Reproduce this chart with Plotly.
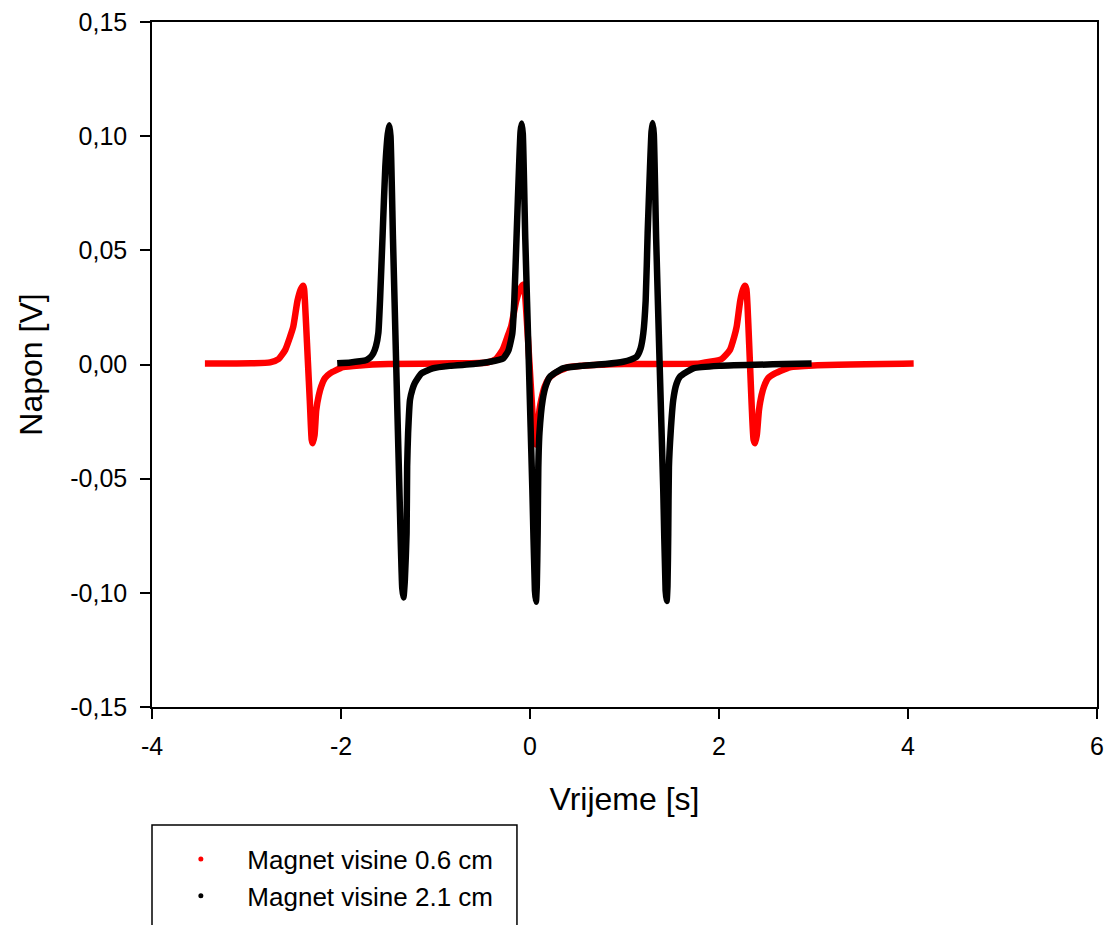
import plotly.graph_objects as go

# values (time in s, voltage in V)
red_t = [-3.44, -2.95, -2.75, -2.66, -2.59, -2.54, -2.505, -2.46, -2.425, -2.40,
         -2.39, -2.37, -2.35, -2.33, -2.31, -2.30, -2.28, -2.262, -2.235, -2.21,
         -2.17, -2.116, -1.98, -1.80, -1.50,
         -0.80, -0.45, -0.36, -0.29, -0.24, -0.20, -0.145, -0.105, -0.07, -0.055,
         -0.03, -0.005, 0.02, 0.045, 0.06, 0.08, 0.10, 0.13, 0.155, 0.20,
         0.26, 0.40, 0.60, 1.00,
         1.80, 2.028, 2.116, 2.16, 2.187, 2.225, 2.255, 2.275, 2.29, 2.31,
         2.328, 2.346, 2.366, 2.381, 2.40, 2.423, 2.45, 2.476, 2.52, 2.593,
         2.75, 3.00, 4.06]
red_v = [0.0004, 0.0005, 0.0009, 0.0024, 0.0064, 0.012, 0.0166, 0.028, 0.033, 0.0345,
         0.033, 0.018, 0.001, -0.016, -0.033, -0.0345, -0.031, -0.020, -0.0135, -0.0097,
         -0.006, -0.0039, -0.0012, -0.0004, 0.0002,
         0.0005, 0.0009, 0.0024, 0.0064, 0.012, 0.0166, 0.028, 0.033, 0.035, 0.032,
         0.017, 0.0, -0.017, -0.032, -0.035, -0.031, -0.020, -0.0135, -0.0097, -0.006,
         -0.0039, -0.0012, -0.0004, 0.0002,
         0.0005, 0.0024, 0.0064, 0.012, 0.0166, 0.028, 0.033, 0.0345, 0.033, 0.018,
         0.0, -0.018, -0.033, -0.0345, -0.031, -0.020, -0.0135, -0.0097, -0.006, -0.0039,
         -0.0012, -0.0004, 0.0004]

black_t = [-2.04, -1.90, -1.80, -1.73, -1.69, -1.658, -1.63, -1.605, -1.587, -1.559,
           -1.531, -1.505, -1.489, -1.476, -1.45, -1.416, -1.38, -1.352, -1.339, -1.325,
           -1.306, -1.30, -1.29, -1.27, -1.245, -1.22, -1.15, -1.03, -0.85, -0.60,
           -0.423, -0.33, -0.283, -0.23, -0.187, -0.166, -0.141, -0.116, -0.100, -0.088,
           -0.076, -0.05, -0.012, 0.025, 0.052, 0.063, 0.072, 0.081, 0.088, 0.10,
           0.134, 0.17, 0.212, 0.349, 0.55, 0.80,
           0.987, 1.07, 1.128, 1.17, 1.199, 1.224, 1.245, 1.27, 1.286, 1.298,
           1.310, 1.335, 1.372, 1.41, 1.435, 1.446, 1.455, 1.463, 1.47, 1.488,
           1.516, 1.55, 1.587, 1.728, 2.00, 2.98]
black_v = [0.0005, 0.0009, 0.0014, 0.0020, 0.0031, 0.0049, 0.0080, 0.0137, 0.028, 0.0575,
           0.0866, 0.101, 0.1048, 0.100, 0.055, 0.0, -0.058, -0.098, -0.102, -0.095,
           -0.0739, -0.0448, -0.0301, -0.0155, -0.0110, -0.0082, -0.0039, -0.0017, -0.0006, 0.0002,
           0.0012, 0.0020, 0.0027, 0.0060, 0.0137, 0.028, 0.0575, 0.0866, 0.102, 0.1056,
           0.101, 0.055, 0.0, -0.055, -0.099, -0.1039, -0.097, -0.0739, -0.045, -0.030,
           -0.0155, -0.0090, -0.0053, -0.0017, -0.0006, 0.0002,
           0.0012, 0.0022, 0.0034, 0.0070, 0.0137, 0.028, 0.0575, 0.0866, 0.102, 0.1058,
           0.101, 0.055, 0.0, -0.055, -0.099, -0.1036, -0.097, -0.0739, -0.045, -0.030,
           -0.0155, -0.0085, -0.0053, -0.0017, -0.0006, 0.0004]

x_ticks = [-4, -2, 0, 2, 4, 6]
x_labels = ["-4", "-2", "0", "2", "4", "6"]
y_ticks = [-0.15, -0.10, -0.05, 0.0, 0.05, 0.10, 0.15]
y_labels = ["-0,15", "-0,10", "-0,05", "0,00", "0,05", "0,10", "0,15"]

FONT = "Liberation Sans, Arial, sans-serif"

fig = go.Figure()
fig.add_trace(go.Scatter(x=red_t, y=red_v, mode="lines",
                         line=dict(color="#ff0000", width=6.5, shape="spline", smoothing=0.5),
                         showlegend=False))
fig.add_trace(go.Scatter(x=black_t, y=black_v, mode="lines",
                         line=dict(color="#000000", width=6.5, shape="spline", smoothing=0.5),
                         showlegend=False))
# legend entries (small dots like the original)
fig.add_trace(go.Scatter(x=[None], y=[None], mode="markers", name="Magnet visine 0.6 cm",
                         marker=dict(color="#ff0000", size=5)))
fig.add_trace(go.Scatter(x=[None], y=[None], mode="markers", name="Magnet visine 2.1 cm",
                         marker=dict(color="#000000", size=5)))

axis_common = dict(showgrid=False, zeroline=False, showline=True, linecolor="black",
                   linewidth=1.5, mirror=True, ticks="outside", ticklen=10,
                   tickwidth=1.5, tickcolor="black", ticklabeloverflow="allow",
                   tickfont=dict(family=FONT, size=25, color="black"))

fig.update_xaxes(range=[-4, 6], tickvals=x_ticks, ticktext=x_labels, ticklabelstandoff=6,
                 title=dict(text="Vrijeme [s]", font=dict(family=FONT, size=32, color="black"),
                            standoff=29),
                 **axis_common)
fig.update_yaxes(range=[-0.15, 0.15], tickvals=y_ticks, ticktext=y_labels, ticklabelstandoff=8,
                 title=dict(text="Napon [V]", font=dict(family=FONT, size=32, color="black"),
                            standoff=18),
                 **axis_common)

# legend frame (runs off the bottom of the page like the reference)
fig.add_shape(type="rect", xref="paper", yref="paper", x0=0, x1=0.3862,
              y0=-0.1723, y1=-0.40, line=dict(color="black", width=1.5))

fig.update_layout(
    width=1107, height=925,
    margin=dict(l=152, r=10, t=22, b=218, autoexpand=False),
    plot_bgcolor="white", paper_bgcolor="white",
    font=dict(family=FONT, color="black"),
    legend=dict(x=0.0025, y=-0.1877, xanchor="left", yanchor="top", itemwidth=83,
                bgcolor="rgba(0,0,0,0)", borderwidth=0,
                font=dict(family=FONT, size=26, color="black")),
)

# drop the default page margin so the figure sits at the window's top-left corner
fig.write_html("out.html", config={"displayModeBar": False},
               post_script="document.body.style.margin='0';")
